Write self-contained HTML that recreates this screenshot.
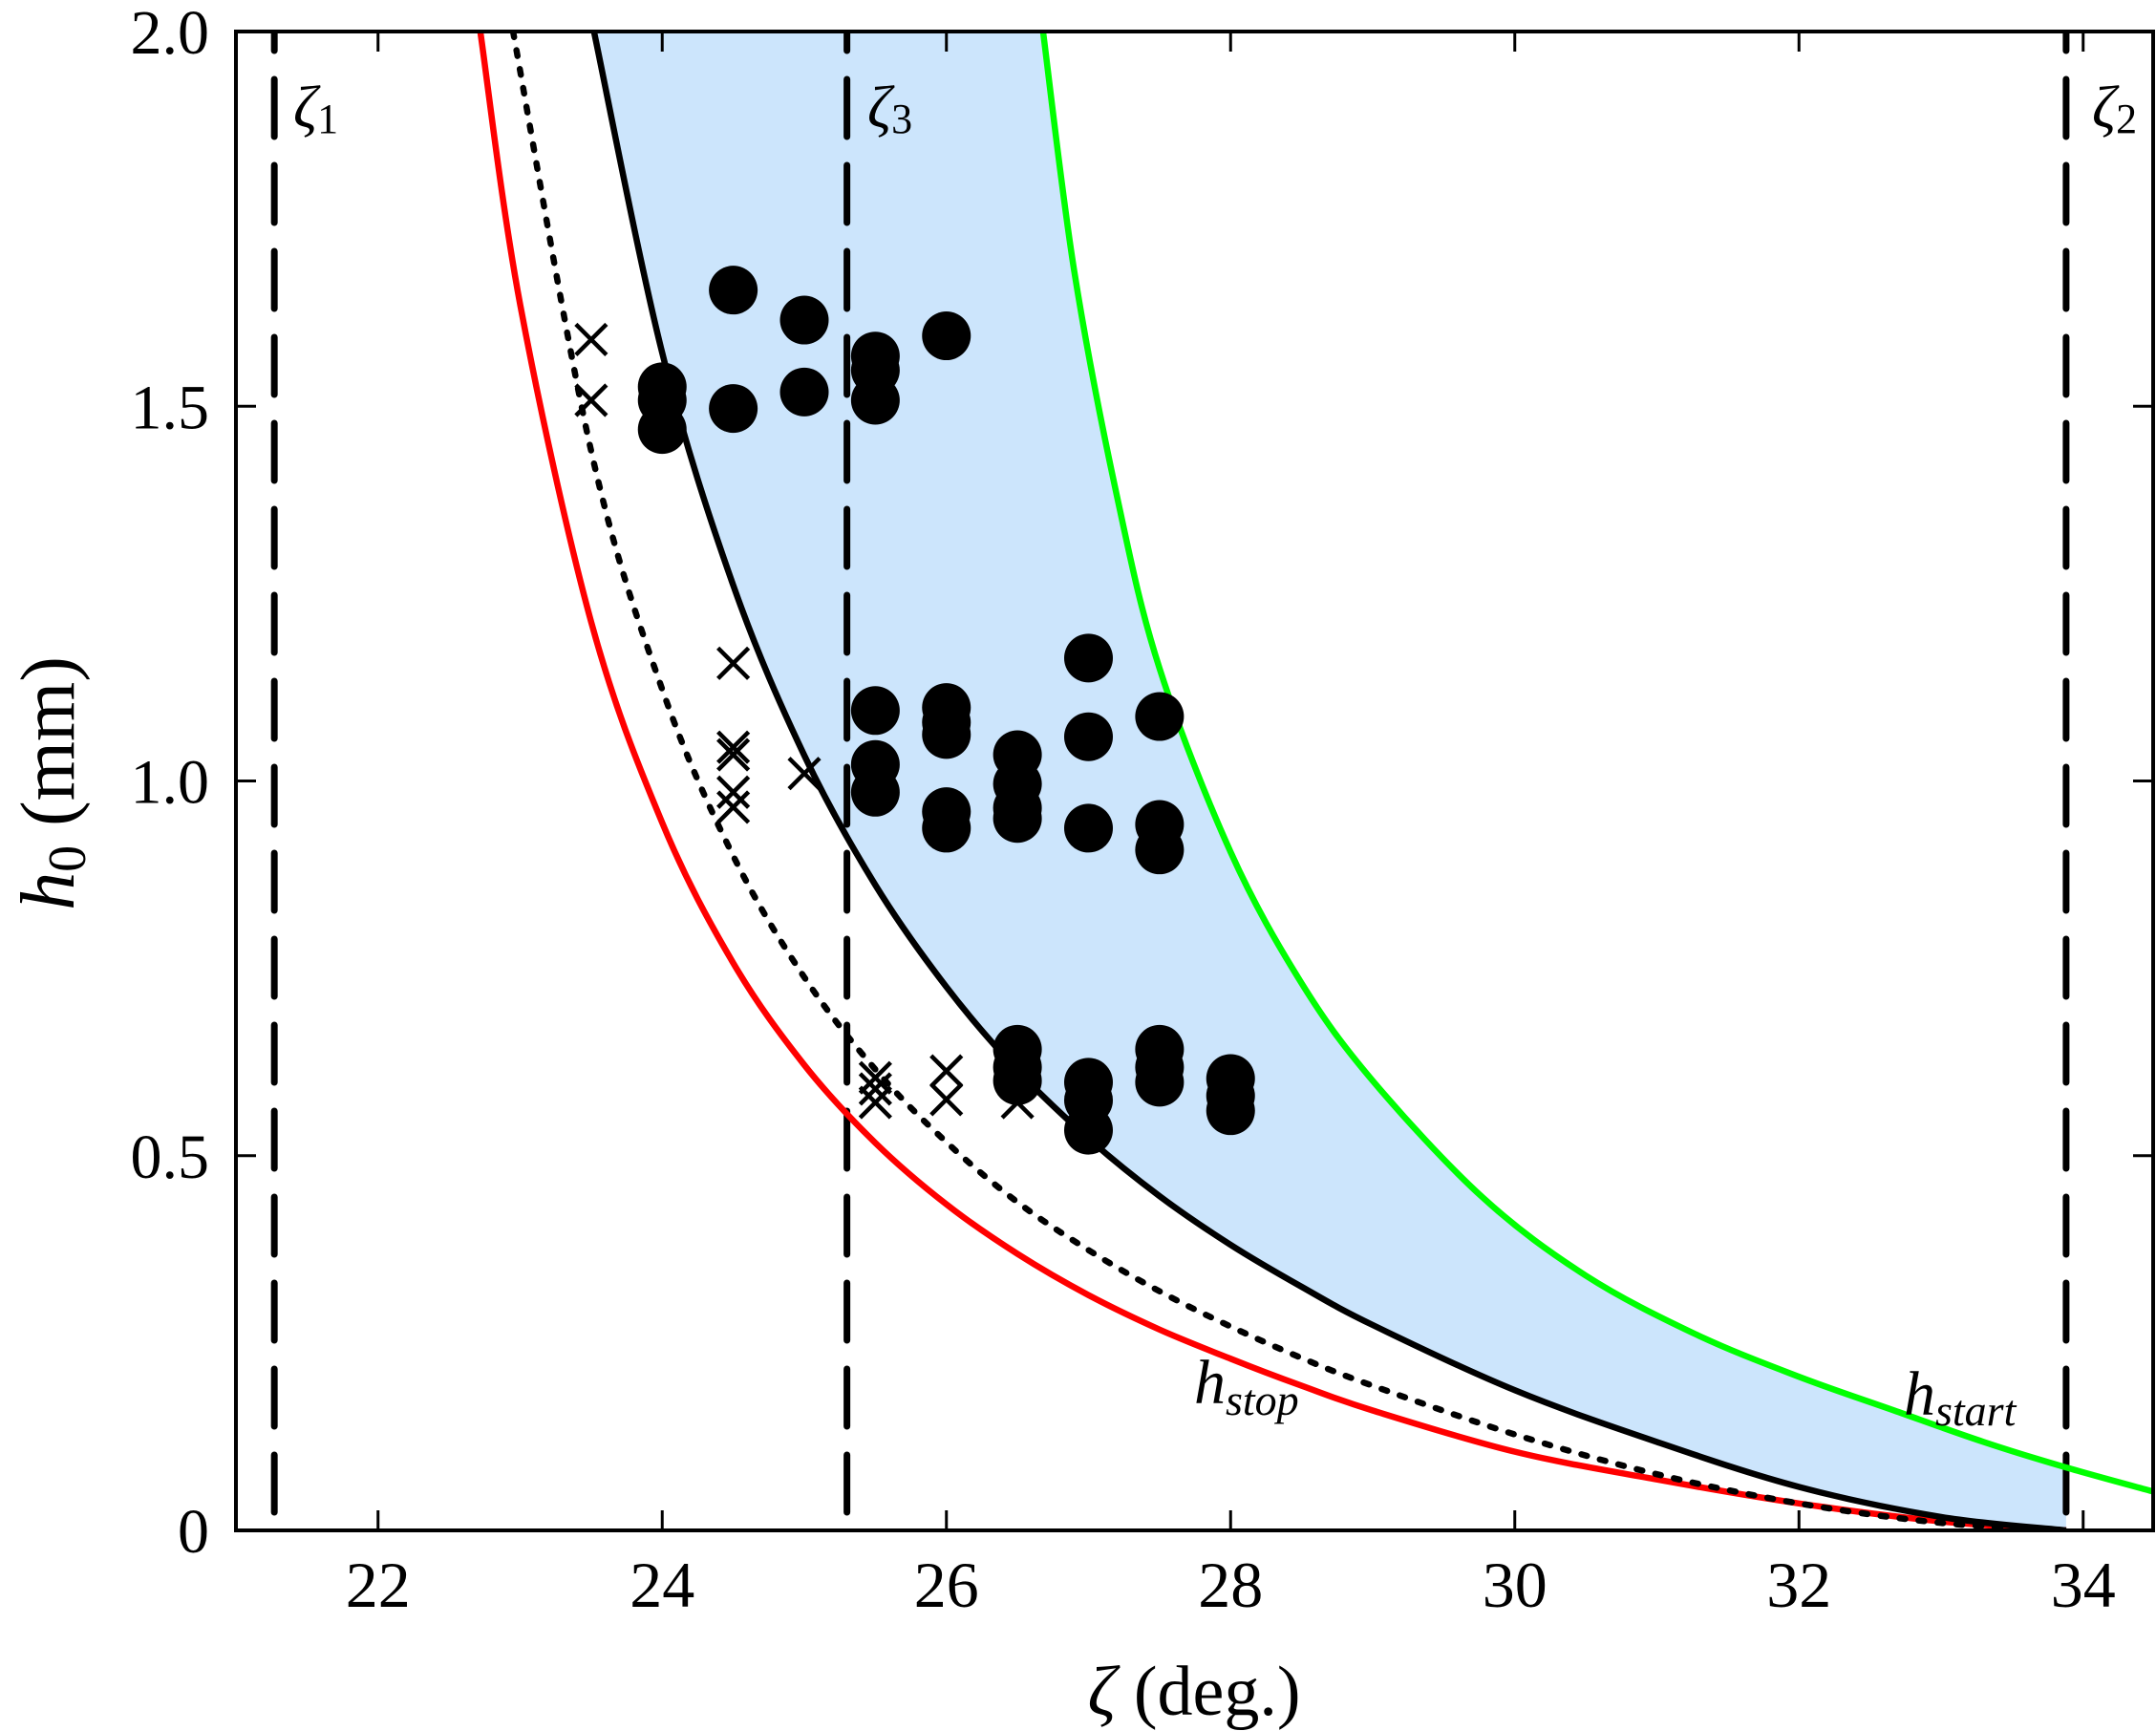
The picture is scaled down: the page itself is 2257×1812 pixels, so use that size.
<!DOCTYPE html>
<html><head><meta charset="utf-8"><style>
html,body{margin:0;padding:0;background:#fff;}
svg{display:block;font-family:"Liberation Serif",serif;}
</style></head><body>
<svg id="chart" width="2257" height="1812" viewBox="0 0 2257 1812" xmlns="http://www.w3.org/2000/svg">
<defs><clipPath id="plotclip"><rect x="247" y="33" width="2007" height="1569"/></clipPath></defs>
<g id="fills" clip-path="url(#plotclip)"></g>
<g id="vlines" clip-path="url(#plotclip)"></g>
<g id="curves" clip-path="url(#plotclip)"></g>
<g id="marks" clip-path="url(#plotclip)"></g>
<g id="axes"></g>
<text x="1250" y="1469" font-size="66" font-style="italic">h<tspan font-size="46" dy="12">stop</tspan></text>
<text x="1993" y="1481" font-size="66" font-style="italic">h<tspan font-size="46" dy="11">start</tspan></text>
<text x="307" y="133" font-size="62" font-style="italic">ζ<tspan font-style="normal" font-size="44" dy="6">1</tspan></text>
<text x="908" y="133" font-size="62" font-style="italic">ζ<tspan font-style="normal" font-size="44" dy="6">3</tspan></text>
<text x="2190" y="133" font-size="62" font-style="italic">ζ<tspan font-style="normal" font-size="44" dy="6">2</tspan></text>
<text x="1250" y="1795" font-size="74" text-anchor="middle"><tspan font-style="italic">ζ</tspan> (deg.)</text>
<text transform="translate(77,820) rotate(-90)" font-size="80" text-anchor="middle"><tspan font-style="italic">h</tspan><tspan font-size="56" dy="12">0</tspan><tspan dy="-12"> (mm)</tspan></text>
</svg>
<script>
const xTicks=[22,24,26,28,30,32,34];
const yTicks=[0,0.5,1.0,1.5,2.0];
const yTickLabels=["0","0.5","1.0","1.5","2.0"];
const criticalAngles=[21.27,25.30,33.88];
const redZeta=[22.72,23.0,23.5,24.0,24.5,25.0,25.5,26.0,26.5,27.0,27.5,28.0,28.5,29.0,30.0,31.0,32.0,33.0,33.88];
const redH=[2.0,1.636,1.212,0.944,0.757,0.621,0.517,0.435,0.369,0.314,0.268,0.229,0.193,0.160,0.105,0.068,0.036,0.012,0.0];
const dotZeta=[22.95,23.5,24.0,24.5,25.0,25.5,26.0,26.5,27.0,27.5,28.0,28.5,29.0,30.0,31.0,32.0,33.0,33.88];
const dotH=[2.0,1.440,1.122,0.900,0.738,0.615,0.518,0.438,0.374,0.319,0.272,0.230,0.193,0.128,0.075,0.036,0.010,0.0];
const blackZeta=[23.52,24.0,24.5,25.0,25.5,26.0,26.5,27.0,27.5,28.0,28.5,29.0,30.0,31.0,32.0,33.0,33.88];
const blackH=[2.0,1.571,1.261,1.034,0.861,0.725,0.614,0.523,0.446,0.381,0.325,0.274,0.187,0.118,0.058,0.018,0.0];
const greenZeta=[26.68,26.9,27.2,27.5,28.0,28.5,29.0,29.77,30.5,31.27,32.0,32.67,33.3,33.88,34.49];
const greenH=[2.0,1.68,1.38,1.15,0.905,0.73,0.60,0.445,0.34,0.262,0.205,0.160,0.118,0.084,0.052];
const flowZeta=[24.0,24.0,24.0,24.5,24.5,25.0,25.0,25.5,25.5,25.5,26.0,25.5,25.5,25.5,26.0,26.0,26.0,26.0,26.0,26.5,26.5,26.5,26.5,27.0,27.0,27.0,27.5,27.5,27.5,26.5,26.5,26.5,27.0,27.0,27.0,27.5,27.5,27.5,28.0,28.0,28.0];
const flowH=[1.526,1.508,1.469,1.655,1.497,1.615,1.519,1.567,1.548,1.508,1.594,1.094,1.022,0.985,1.098,1.078,1.062,0.959,0.937,1.035,0.996,0.964,0.950,1.164,1.059,0.937,1.086,0.942,0.908,0.642,0.618,0.600,0.598,0.574,0.534,0.642,0.618,0.598,0.603,0.580,0.560];
const noFlowZeta=[23.5,23.5,24.5,24.5,24.5,24.5,24.5,25.0,25.5,25.5,25.5,26.0,26.0,26.5];
const noFlowH=[1.589,1.508,1.157,1.045,1.035,0.985,0.965,1.010,0.604,0.589,0.571,0.613,0.575,0.571];

const NS="http://www.w3.org/2000/svg";
const X0=247,XPU=148.75,Y0=1602,YPU=784.5;
function sx(z){return X0+(z-21)*XPU;}
function sy(h){return Y0-h*YPU;}
function mk(tag,parent,attrs){const e=document.createElementNS(NS,tag);for(const k in attrs)e.setAttribute(k,attrs[k]);parent.appendChild(e);return e;}
function pts(zs,hs){return zs.map((z,i)=>[sx(z),sy(hs[i])]);}
function smooth(p){let d="M"+p[0][0].toFixed(1)+","+p[0][1].toFixed(1);
 for(let i=0;i<p.length-1;i++){const p0=p[i-1]||p[i],p1=p[i],p2=p[i+1],p3=p[i+2]||p[i+1];
  const c1=[p1[0]+(p2[0]-p0[0])/6,p1[1]+(p2[1]-p0[1])/6],c2=[p2[0]-(p3[0]-p1[0])/6,p2[1]-(p3[1]-p1[1])/6];
  d+=" C"+c1[0].toFixed(1)+","+c1[1].toFixed(1)+" "+c2[0].toFixed(1)+","+c2[1].toFixed(1)+" "+p2[0].toFixed(1)+","+p2[1].toFixed(1);}
 return d;}
const fills=document.getElementById('fills'),vl=document.getElementById('vlines'),cv=document.getElementById('curves'),mg=document.getElementById('marks'),ax=document.getElementById('axes');
const zc=criticalAngles[2];
const gP=pts(greenZeta,greenH).filter(p=>p[0]<=sx(zc)+0.5);
const lastG=gP[gP.length-1];
const bP=pts(blackZeta,blackH);
let fd=smooth(gP)+" L"+sx(zc)+","+lastG[1]+" L"+sx(zc)+","+sy(0);
const bR=bP.slice().reverse();
fd+=" L"+bR[0][0]+","+bR[0][1]+smooth(bR).replace(/^M[^C]*/," ")+" L"+bP[0][0]+","+(sy(2)-10)+" L"+gP[0][0]+","+(sy(2)-10)+" Z";
const f=mk('path',fills,{d:fd,fill:'#cce5fc',stroke:'none'});


criticalAngles.forEach((z,i)=>{const l=mk('line',vl,{x1:sx(z),x2:sx(z),y1:sy(2),y2:sy(0),stroke:'#000','stroke-width':7,'stroke-dasharray':'60 30','stroke-dashoffset':40,'stroke-linecap':'round'});
 
 });
function curve(zs,hs,col,extra,name){const p=mk('path',cv,Object.assign({d:smooth(pts(zs,hs)),fill:'none',stroke:col,'stroke-width':6.5},extra));
 
 }
curve(redZeta,redH,'#ff0000',{},'hstop-curve');
curve(dotZeta,dotH,'#000',{'stroke-width':6.5,'stroke-dasharray':'6 14','stroke-linecap':'round'},'dotted-curve');
curve(blackZeta,blackH,'#000',{},'black-curve');
curve(greenZeta,greenH,'#00ff00',{},'hstart-curve');
flowZeta.forEach((z,i)=>{const c=mk('circle',mg,{cx:sx(z),cy:sy(flowH[i]),r:25.5,fill:'#000'});
 
 });
noFlowZeta.forEach((z,i)=>{const x=sx(z),y=sy(noFlowH[i]),s=16;
 const p=mk('path',mg,{d:`M${x-s},${y-s}L${x+s},${y+s}M${x-s},${y+s}L${x+s},${y-s}`,stroke:'#000','stroke-width':4.5,fill:'none'});
 
 });
const fr=mk('rect',ax,{x:247,y:33,width:2007,height:1569,fill:'none',stroke:'#000','stroke-width':4});


xTicks.forEach(t=>{const x=sx(t);
 mk('line',ax,{x1:x,x2:x,y1:Y0,y2:Y0-21,stroke:'#000','stroke-width':3});
 mk('line',ax,{x1:x,x2:x,y1:33,y2:54,stroke:'#000','stroke-width':3});
 const tx=mk('text',ax,{x:x,y:1682,'font-size':68,'text-anchor':'middle'});tx.textContent=t;
 
 });
yTicks.forEach((t,i)=>{const y=sy(t);
 mk('line',ax,{x1:247,x2:268,y1:y,y2:y,stroke:'#000','stroke-width':3});
 mk('line',ax,{x1:2254,x2:2233,y1:y,y2:y,stroke:'#000','stroke-width':3});
 const tx=mk('text',ax,{x:219,y:y+23,'font-size':66,'text-anchor':'end'});tx.textContent=yTickLabels[i];
 
 });
</script>
</body></html>
